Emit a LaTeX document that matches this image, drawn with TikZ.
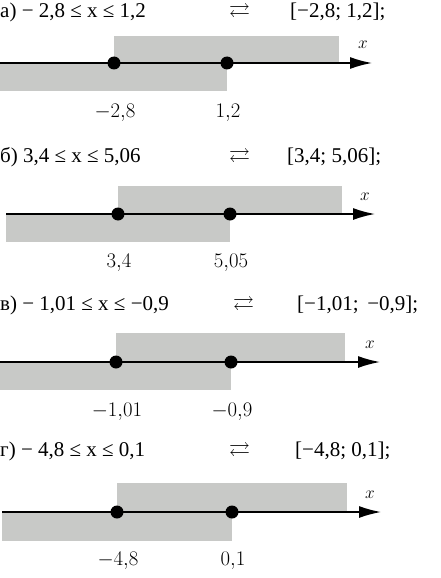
\documentclass[tikz,border=0pt]{standalone}
\usepackage{fontspec}
\setmainfont{Liberation Serif}
\usepackage{amssymb}
\usetikzlibrary{arrows.meta}
\definecolor{shade}{RGB}{200,201,199}

\begin{document}
\begin{tikzpicture}[x=1pt,y=-1pt,
  band/.style={fill=shade},
  axis/.style={line width=1.6pt,-{Latex[length=22pt,width=12pt]}},
  dot/.style={circle,fill,inner sep=0pt,minimum size=13pt},
  head/.style={anchor=base west,inner sep=0pt,font=\fontsize{21}{25}\selectfont},
  tick/.style={font=\fontsize{20}{24}\selectfont},
  var/.style={font=\fontsize{19}{23}\selectfont}]
  \useasboundingbox (0,0) rectangle (441,578);
  % Part a.
  \node[head] (tA) at (0,18) {а) − 2,8 ≤ x ≤ 1,2};
  \node[head] (eA) at (229,18) {$\rightleftarrows$};
  \node[head] (iA) at (290,18) {[−2,8; 1,2];};
  \fill[band] (114,36) rectangle (339,63);
  \fill[band] (0,63) rectangle (227,91);
  \coordinate (sA) at (0,63);
  \coordinate (fA) at (372,63);
  \draw[axis] (sA) -- (fA);
  \node[dot] (pA) at (114,63) {};
  \node[dot] (qA) at (227,63) {};
  \node[var] (xA) at (363,45) {$x$};
  \node[tick] (lpA) at (115,113) {$-2{,}8$};
  \node[tick] (lqA) at (228,113) {$1{,}2$};
  % Part b.
  \node[head] (tB) at (0,162) {б) 3,4 ≤ x ≤ 5,06};
  \node[head] (eB) at (229,162) {$\rightleftarrows$};
  \node[head] (iB) at (287,162) {[3,4; 5,06];};
  \fill[band] (118,186) rectangle (342,214);
  \fill[band] (6,214) rectangle (230,242);
  \coordinate (sB) at (6,214);
  \coordinate (fB) at (375,214);
  \draw[axis] (sB) -- (fB);
  \node[dot] (pB) at (118,214) {};
  \node[dot] (qB) at (230,214) {};
  \node[var] (xB) at (365,197) {$x$};
  \node[tick] (lpB) at (119,263) {$3{,}4$};
  \node[tick] (lqB) at (231,263) {$5{,}05$};
  % Part c.
  \node[head] (tC) at (0,310) {в) − 1,01 ≤ x ≤ −0,9};
  \node[head] (eC) at (233,310) {$\rightleftarrows$};
  \node[head] (iC) at (297,310) {[−1,01;\, −0,9];};
  \fill[band] (116,333) rectangle (345,362);
  \fill[band] (0,362) rectangle (231,390);
  \coordinate (sC) at (0,362);
  \coordinate (fC) at (380,362);
  \draw[axis] (sC) -- (fC);
  \node[dot] (pC) at (116,362) {};
  \node[dot] (qC) at (231,362) {};
  \node[var] (xC) at (370,345) {$x$};
  \node[tick] (lpC) at (117,412) {$-1{,}01$};
  \node[tick] (lqC) at (232,412) {$-0{,}9$};
  % Part d.
  \node[head] (tD) at (0,456) {г) − 4,8 ≤ x ≤ 0,1};
  \node[head] (eD) at (229,456) {$\rightleftarrows$};
  \node[head] (iD) at (295,456) {[−4,8; 0,1];};
  \fill[band] (117,483) rectangle (347,512);
  \fill[band] (2,512) rectangle (232,541);
  \coordinate (sD) at (2,512);
  \coordinate (fD) at (381,512);
  \draw[axis] (sD) -- (fD);
  \node[dot] (pD) at (117,512) {};
  \node[dot] (qD) at (232,512) {};
  \node[var] (xD) at (370,495) {$x$};
  \node[tick] (lpD) at (118,561) {$-4{,}8$};
  \node[tick] (lqD) at (233,561) {$0{,}1$};
\end{tikzpicture}
\end{document}
